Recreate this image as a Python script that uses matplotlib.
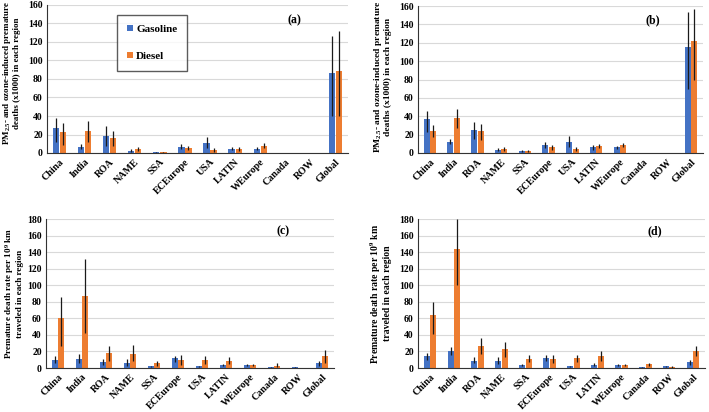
import numpy as np
import matplotlib
matplotlib.use("Agg")
import matplotlib.pyplot as plt

regions = ["China", "India", "ROA", "NAME", "SSA", "ECEurope", "USA",
           "LATIN", "WEurope", "Canada", "ROW", "Global"]

# (a) premature deaths (x1000)
a_gas = [27, 7, 18, 2, 1, 7, 10.5, 4.5, 4.5, 0.3, 0.3, 86]
a_gas_lo = [12, 4, 8, 1, 0.5, 4, 5, 3, 3.5, 0.2, 0.2, 40]
a_gas_hi = [38, 10, 29, 4, 1.5, 10, 17, 6.5, 6, 0.4, 0.4, 126]
a_die = [23, 24, 16, 4, 1, 5.5, 3, 4, 8, 0.3, 0.3, 89]
a_die_lo = [9, 12, 8, 2, 0.5, 3, 1.5, 2, 5.5, 0.2, 0.2, 40]
a_die_hi = [32, 35, 24, 6, 1.5, 8, 5, 6, 11, 0.4, 0.4, 132]

# (b)
b_gas = [36.5, 12.5, 24.5, 3, 2.5, 8.5, 12.5, 6, 6, 0.3, 0.3, 115]
b_gas_lo = [23, 10, 15, 2, 1.5, 5, 6.5, 3.5, 4, 0.2, 0.2, 70]
b_gas_hi = [46, 15, 34, 5, 3, 12, 18.5, 8.5, 7.5, 0.4, 0.4, 153]
b_die = [24, 38.5, 24, 4, 2, 6, 4, 7.5, 8.5, 0.3, 0.3, 122]
b_die_lo = [17, 27, 14, 2, 1.5, 3.5, 2.5, 5, 6, 0.2, 0.2, 79]
b_die_hi = [30, 48, 32, 6, 3, 8.5, 6, 10, 11, 0.4, 0.4, 157]

# (c) death rate per 10^9 km
c_gas = [10, 11, 7, 6.5, 2, 11.5, 2, 3.5, 3.5, 1, 1, 5.5]
c_gas_lo = [6, 6, 4, 3, 1.5, 7, 1.5, 2.5, 2.5, 0.5, 0.5, 3]
c_gas_hi = [15, 17, 11, 11, 3, 15, 3, 5, 4.5, 1.5, 1.5, 8]
c_die = [60, 87.5, 18, 17, 6, 10, 9.5, 8, 3.5, 3, 0.3, 14.5]
c_die_lo = [26, 42, 9, 8, 3, 4, 5, 4.5, 2.5, 1.5, 0.2, 6.5]
c_die_hi = [86, 132, 27, 28, 9, 16, 14, 13, 4.5, 5.5, 0.4, 22]

# (d)
d_gas = [14, 21, 9, 8, 4, 12, 2, 4, 4, 1, 2, 7]
d_gas_lo = [10, 16, 6, 5, 3, 8, 1.5, 3, 3, 0.5, 1.5, 4]
d_gas_hi = [18, 25, 13, 13, 5, 16, 3, 5.5, 5, 1.5, 3, 10]
d_die = [63.5, 143.5, 26.5, 22.5, 11, 11, 11.5, 14.5, 3.5, 5, 1, 20.5]
d_die_lo = [41, 100, 17, 13, 7, 6, 7, 9, 2.5, 3, 0.5, 14]
d_die_hi = [80, 180, 36, 32, 16, 16, 16, 20, 4.5, 6.5, 2, 26]

BLUE = "#4472C4"
ORANGE = "#ED7D31"

plt.rcParams["font.family"] = ["Liberation Serif", "DejaVu Serif"]
plt.rcParams["font.weight"] = "bold"
plt.rcParams["mathtext.fontset"] = "custom"
plt.rcParams["mathtext.rm"] = "Liberation Serif:bold"
plt.rcParams["mathtext.it"] = "Liberation Serif:bold:italic"
plt.rcParams["mathtext.bf"] = "Liberation Serif:bold"

W, H = 709, 412
fig = plt.figure(figsize=(W / 100, H / 100), dpi=100)


def px_axes(left, top, right, bottom):
    return fig.add_axes([left / W, 1 - bottom / H, (right - left) / W, (bottom - top) / H])


def draw_panel(ax, gas, glo, ghi, die, dlo, dhi, ymax, ystep, ylabel, lab_fs, lab_y,
               tag, tag_y, pad, legend=False):
    x = np.arange(len(regions))
    w = 0.25
    off = 0.14
    gas = np.array(gas); die = np.array(die)
    gerr = [gas - np.array(glo), np.array(ghi) - gas]
    derr = [die - np.array(dlo), np.array(dhi) - die]
    ax.bar(x - off, gas, w, color=BLUE, label="Gasoline", zorder=2)
    ax.bar(x + off, die, w, color=ORANGE, label="Diesel", zorder=2)
    ax.errorbar(x - off, gas, yerr=gerr, fmt="none", ecolor="#1a1a1a", elinewidth=0.9, capsize=0, zorder=3)
    ax.errorbar(x + off, die, yerr=derr, fmt="none", ecolor="#1a1a1a", elinewidth=0.9, capsize=0, zorder=3)
    ax.set_xlim(-0.5, len(regions) - 0.5)
    ax.set_ylim(0, ymax)
    ax.set_yticks(np.arange(0, ymax + 1, ystep))
    ax.yaxis.grid(True, color="#d9d9d9", linewidth=0.8, zorder=0)
    ax.set_axisbelow(True)
    ax.set_xticks(x)
    ax.set_xticklabels(regions, rotation=45, ha="right", rotation_mode="anchor", fontsize=7.2, fontweight="bold")
    ax.tick_params(axis="both", length=0, pad=3)
    ax.tick_params(axis="y", labelsize=7)
    for lbl in ax.get_yticklabels():
        lbl.set_fontweight("bold")
    for s in ["top", "right"]:
        ax.spines[s].set_visible(False)
    ax.spines["left"].set_color("#333333")
    ax.spines["bottom"].set_color("#333333")
    ax.set_ylabel(ylabel, fontsize=lab_fs, fontweight="bold", labelpad=pad, linespacing=1.05)
    ax.yaxis.label.set_y(lab_y)
    ax.text(0.8, tag_y, tag, transform=ax.transAxes, fontsize=8.5, fontweight="bold", va="center")
    if legend:
        ax.legend(loc="upper left", bbox_to_anchor=(0.233, 0.935), borderaxespad=0,
                  frameon=True, fancybox=False,
                  edgecolor="#333333", handlelength=0.5, handleheight=0.5,
                  labelspacing=1.6, borderpad=0.9, handletextpad=0.3,
                  prop={"weight": "bold", "size": 8})


lab1 = "PM$_{2.5}$- and ozone-induced premature\ndeaths (x1000) in each region"
lab2 = "Premature death rate per 10$^{9}$ km\ntraveled in each region"

ax_a = px_axes(47, 5, 348, 153)
draw_panel(ax_a, a_gas, a_gas_lo, a_gas_hi, a_die, a_die_lo, a_die_hi, 160, 20,
           lab1, 6.5, 0.54, "(a)", 0.9, 5, legend=True)
ax_b = px_axes(418, 6, 703, 153)
draw_panel(ax_b, b_gas, b_gas_lo, b_gas_hi, b_die, b_die_lo, b_die_hi, 160, 20,
           lab1, 6.8, 0.52, "(b)", 0.9, 5)
ax_c = px_axes(46, 219, 334, 368)
draw_panel(ax_c, c_gas, c_gas_lo, c_gas_hi, c_die, c_die_lo, c_die_hi, 180, 20,
           lab2, 6.6, 0.5, "(c)", 0.92, 2)
ax_d = px_axes(418, 219, 705, 368)
draw_panel(ax_d, d_gas, d_gas_lo, d_gas_hi, d_die, d_die_lo, d_die_hi, 180, 20,
           lab2, 7, 0.5, "(d)", 0.92, 5)

fig.savefig("out.png", dpi=100)
